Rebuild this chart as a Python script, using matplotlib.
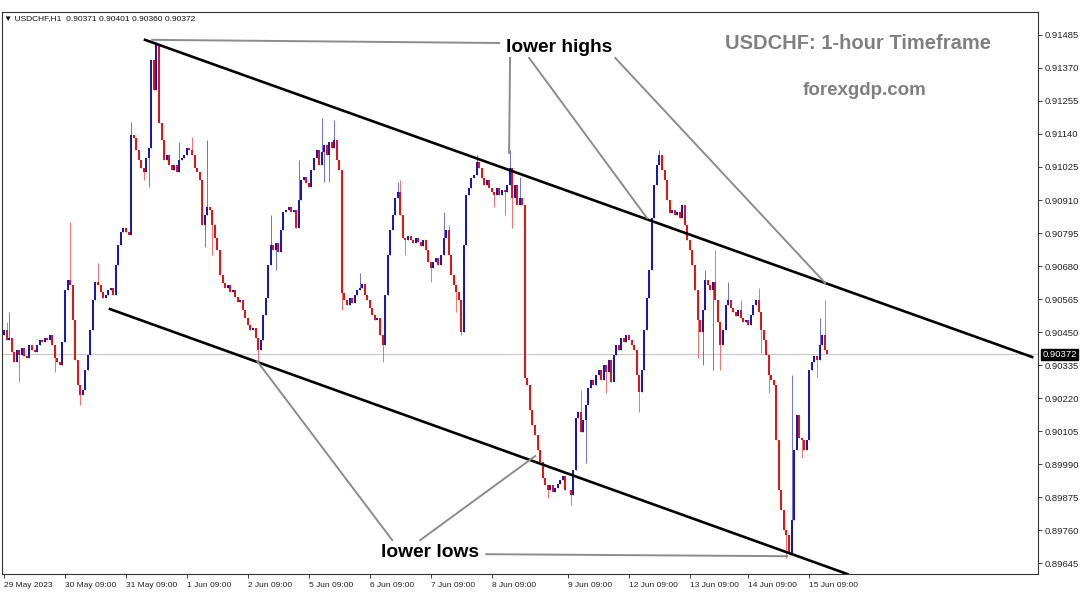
import numpy as np
import matplotlib.pyplot as plt

plt.rcParams["font.family"] = ["Liberation Sans", "DejaVu Sans"]

# time axis labels and the bar each one sits on
date_labels = ["29 May 2023", "30 May 09:00", "31 May 09:00", "1 Jun 09:00", "2 Jun 09:00",
               "5 Jun 09:00", "6 Jun 09:00", "7 Jun 09:00", "8 Jun 09:00", "9 Jun 09:00",
               "12 Jun 09:00", "13 Jun 09:00", "14 Jun 09:00", "15 Jun 09:00"]
date_bars = [0, 24, 48, 72, 96, 120, 144, 168, 192, 222, 246, 270, 293, 317]

# USDCHF H1 closes in 1e-5 units, one row per trading day
first_open = 90440
closes = [
    90457, 90422, 90429, 90380, 90345, 90387, 90370, 90394, 90366, 90359, 90405, 90387,
    90380, 90405, 90422, 90415, 90429, 90422, 90440, 90405, 90359, 90345, 90335, 90415,
    # 30 May
    90597, 90632, 90614, 90492, 90352, 90265, 90230, 90248, 90318, 90370, 90457, 90562,
    90624, 90614, 90590, 90569, 90579, 90597, 90604, 90579, 90684, 90754, 90799, 90813,
    # 31 May
    90799, 90788, 91137, 91126, 91084, 91049, 91022, 91008, 91056, 91091, 91398, 91293,
    91450, 91178, 91119, 91049, 91067, 91032, 91015, 91032, 91008, 91049, 91056, 91067,
    # 1 Jun
    91091, 91084, 91067, 91022, 91008, 90980, 90823, 90858, 90886, 90875, 90823, 90778,
    90736, 90649, 90621, 90604, 90614, 90590, 90597, 90572, 90555, 90562, 90527, 90499,
    # 2 Jun
    90474, 90457, 90464, 90429, 90387, 90422, 90509, 90569, 90684, 90754, 90736, 90760,
    90729, 90806, 90868, 90875, 90886, 90868, 90875, 90813, 90910, 90980, 90990, 90969,
    # 5 Jun
    90955, 91015, 91056, 91084, 91032, 91077, 91102, 91067, 91112, 91091, 91119, 91049,
    91015, 90586, 90562, 90544, 90569, 90551, 90579, 90597, 90604, 90617, 90579, 90562,
    # 6 Jun
    90534, 90509, 90492, 90499, 90440, 90405, 90579, 90719, 90806, 90858, 90917, 90938,
    90858, 90778, 90771, 90785, 90771, 90760, 90778, 90764, 90750, 90771, 90736, 90694,
    # 7 Jun
    90673, 90694, 90708, 90684, 90719, 90778, 90806, 90719, 90649, 90614, 90590, 90562,
    90450, 90754, 90927, 90952, 90987, 90997, 91042, 91022, 90987, 90962, 90980, 90952,
    # 8 Jun
    90938, 90927, 90952, 90927, 90945, 90938, 90962, 91022, 90917, 90962, 90893, 90917,
    90893, 90289, 90265, 90178, 90126, 90091, 90039, 89997, 89941, 89917, 89899, 89917,
    89892, 89906, 89920, 89934, 89948, 89899,
    # 9 Jun
    89899, 89882, 89969, 90150, 90171, 90102, 90143, 90196, 90255, 90283, 90265, 90300,
    90318, 90283, 90335, 90310, 90352, 90276, 90370, 90405, 90387, 90429, 90415, 90440,
    # 12 Jun
    90422, 90405, 90387, 90300, 90241, 90318, 90457, 90569, 90666, 90847, 90962, 91032,
    91067, 91015, 90980, 90910, 90865, 90875, 90858, 90868, 90847, 90893, 90823, 90771,
    # 13 Jun
    90736, 90684, 90597, 90492, 90450, 90527, 90632, 90614, 90597, 90624, 90562, 90485,
    90405, 90457, 90544, 90562, 90534, 90520, 90506, 90527, 90499, 90485, 90492,
    # 14 Jun
    90474, 90509, 90544, 90562, 90520, 90457, 90422, 90370, 90300, 90283, 90265, 90074,
    89899, 89830, 89760, 89743, 89680, 89795, 90039, 90161, 90081, 90074, 90039, 90074,
    # 15 Jun
    90318, 90345, 90366, 90352, 90405, 90440, 90387, 90372,
]

# bars with visible shadows: bar -> (high, low); None = shadow ends at the body
shadows = {
    1: (90485, None), 2: (90520, None), 6: (None, 90276), 20: (None, 90310),
    26: (90833, None), 30: (None, 90196), 37: (90690, None), 50: (91182, None),
    55: (None, 90980), 57: (None, 90955), 60: (91460, None), 69: (91112, None),
    74: (91130, None), 79: (None, 90746), 80: (91119, None), 82: (None, 90719),
    100: (None, 90342), 105: (90858, None), 107: (None, 90666), 116: (91049, None),
    125: (91196, None), 126: (None, 90973), 128: (None, 90973), 130: (91189, None),
    133: (None, 90527), 140: (90656, None), 149: (None, 90345), 155: (90973, None),
    156: (90980, None), 158: (None, 90719), 168: (None, 90624), 173: (90868, None),
    175: (90823, None), 178: (None, 90520), 180: (None, 90440), 186: (91067, None),
    193: (None, 90886), 197: (None, 90858), 199: (91084, None), 200: (None, 90813),
    203: (90990, None), 214: (None, 89871), 223: (None, 89847), 227: (90248, None),
    229: (None, 89993), 237: (None, 90237), 250: (None, 90171), 258: (91084, None),
    273: (None, 90359), 275: (None, 90335), 276: (90666, None), 279: (None, 90318),
    280: (90736, None), 282: (None, 90318), 285: (90624, None), 290: (90562, None),
    297: (90604, None), 298: (None, 90377), 301: (None, 90237), 308: (None, 89662),
    310: (90300, None), 314: (None, 90011), 320: (None, 90293), 321: (90499, None),
    323: (90562, None),
}

price_ticks = [89645, 89760, 89875, 89990, 90105, 90220, 90335, 90450, 90565,
               90680, 90795, 90910, 91025, 91140, 91255, 91370, 91485]
last_price = 90372

c = np.array(closes) / 1e5
o = np.concatenate([[first_open / 1e5], c[:-1]])
hi = np.maximum(o, c)
lo = np.minimum(o, c)
for b, (h, l) in shadows.items():
    if h is not None:
        hi[b] = h / 1e5
    if l is not None:
        lo[b] = l / 1e5
x = np.arange(len(c))

bull = "#1414b4"
bear = "#e60f0f"
colors = np.where(c >= o, bull, bear)
wick_colors = np.where(c >= o, "#5a5ad0", "#f05a5a")

fig = plt.figure(figsize=(10.8, 6), dpi=100)
ax = fig.add_axes([2 / 1080, 1 - 574 / 600, 1036 / 1080, 562 / 600])

ax.axhline(last_price / 1e5, color="#c8c8c8", lw=0.8, zorder=1)

# candles
ax.vlines(x, lo, hi, colors=wick_colors, lw=0.6, zorder=2)
body_top = np.maximum(np.maximum(o, c), np.minimum(o, c) + 0.000015)
ax.vlines(x, np.minimum(o, c), body_top, colors=colors, lw=1.4, zorder=3)

# channel lines
ax.plot([55.5, 404.7], [0.91468, 0.90363], color="black", lw=1.9, zorder=4)
ax.plot([41.7, 331.9], [0.90530, 0.89607], color="black", lw=1.9, zorder=4)

# pointers
grey = "#8c8c8c"
for (x0, y0), (x1, y1) in [((58.3, 0.91468), (194.9, 0.91457)),
                           ((199.2, 0.91405), (198.8, 0.91074)),
                           ((206.7, 0.91405), (253.1, 0.90847)),
                           ((240.6, 0.91405), (323.2, 0.90621)),
                           ((189.8, 0.89676), (308.3, 0.89669)),
                           ((152.8, 0.89725), (99.6, 0.90349)),
                           ((163.8, 0.89725), (209.1, 0.90018))]:
    ax.plot([x0, x1], [y0, y1], color=grey, lw=1.4, zorder=4)

ax.text(218.5, 0.91443, "lower highs", fontsize=13.8, fontweight="bold",
        ha="center", va="center", color="black", zorder=5)
ax.text(167.7, 0.89683, "lower lows", fontsize=13.8, fontweight="bold",
        ha="center", va="center", color="black", zorder=5)
ax.text(336.2, 0.91454, "USDCHF: 1-hour Timeframe", fontsize=14.5, fontweight="bold",
        ha="center", va="center", color="#808080", zorder=5)
ax.text(338.6, 0.91293, "forexgdp.com", fontsize=13.5, fontweight="bold",
        ha="center", va="center", color="#808080", zorder=5)

ax.set_xlim(-0.8, 407.0)
ax.set_ylim(0.89607, 0.91565)

ax.yaxis.tick_right()
ax.set_yticks(np.array(price_ticks) / 1e5)
ax.set_yticklabels([f"{p / 1e5:.5f}" for p in price_ticks])
ax.set_xticks(date_bars)
ax.set_xticklabels(date_labels, ha="left")
ax.tick_params(axis="both", length=3, width=0.6, pad=2, colors="#222222")
ax.tick_params(axis="y", labelsize=6.8)
ax.tick_params(axis="x", labelsize=6.0, pad=3)
for s in ax.spines.values():
    s.set_color("#333333")
    s.set_linewidth(0.8)

ax.annotate(f"{last_price / 1e5:.5f}", xy=(1.0, last_price / 1e5),
            xycoords=("axes fraction", "data"), xytext=(3, 0), textcoords="offset points",
            fontsize=6.8, color="white", va="center", ha="left",
            bbox=dict(boxstyle="square,pad=0.15", fc="black", ec="black"))

fig.text(4 / 1080, 1 - 19 / 600, "\u25bc USDCHF,H1  0.90371 0.90401 0.90360 0.90372",
         fontsize=6.0, va="center", ha="left", color="#111111")

fig.savefig("out.png", dpi=100, facecolor="white")
